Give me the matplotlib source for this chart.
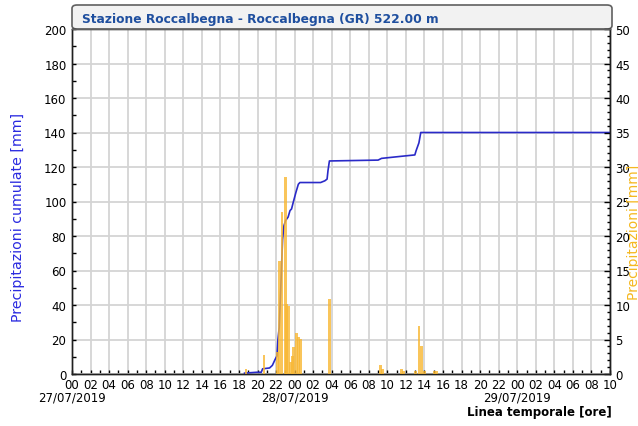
import matplotlib
matplotlib.use("Agg")
import matplotlib.pyplot as plt
from matplotlib.patches import FancyBboxPatch
from matplotlib.ticker import MultipleLocator, FixedLocator
import matplotlib.transforms as mtransforms

# Data (hours from 27/07/2019 00:00)
bar_hours = [18.75, 20.7, 22.17, 22.41, 22.63, 22.98, 23.14, 23.31, 23.57, 23.76,
             23.92, 24.2, 24.43, 24.64, 27.8, 33.27, 33.48, 35.53, 35.78, 37.07,
             37.42, 37.68, 38.04, 39.1, 39.3]
bar_mm = [0.7, 2.8, 3.2, 16.4, 23.5, 28.5, 10.1, 9.9, 1.7, 2.6,
          3.9, 5.9, 5.4, 5.1, 10.9, 1.3, 0.7, 0.7, 0.5, 0.5,
          6.9, 4.0, 0.5, 0.4, 0.4]

cum_hours = [18.6, 19.9, 20.4, 20.55, 21.3, 21.6, 21.9, 22.1, 22.2, 22.34,
             22.5, 22.7, 22.85, 23.03, 23.3, 23.5, 23.67, 23.85, 24.14, 24.4,
             24.57, 26.8, 27.26, 27.5, 27.6, 27.75, 33.0, 33.37, 35.5, 36.96,
             37.1, 37.4, 37.6, 58.0]
cum_mm = [0.5, 1.0, 1.0, 3.0, 3.5, 5.0, 8.5, 10.5, 20, 27,
          49, 78, 86, 89, 91, 94.7, 95.7, 99.5, 105.3, 110,
          111, 111, 112, 113, 118, 123.5, 124, 125, 126.2, 127,
          129.5, 134, 140, 140]

tick_hours = list(range(0, 59, 2))
tick_labels = ["%02d" % (h % 24) for h in tick_hours]
date_hours = [0, 24, 48]
date_labels = ["27/07/2019", "28/07/2019", "29/07/2019"]

title = "Stazione Roccalbegna - Roccalbegna (GR) 522.00 m"

W, H = 638, 427
fig = plt.figure(figsize=(W / 100, H / 100), dpi=100)

x0, x1, y_top, y_bot = 72, 610, 30, 375
ax = fig.add_axes([x0 / W, 1 - y_bot / H, (x1 - x0) / W, (y_bot - y_top) / H])
ax2 = ax.twinx()

# title box with rounded corners, sitting on top of the plot area
box = FancyBboxPatch((x0 / W, 1 - 30 / H), (x1 + 2 - x0) / W, 24 / H,
                     boxstyle="round,pad=0,rounding_size=0.008",
                     transform=fig.transFigure, facecolor="#f2f2f2",
                     edgecolor="#606060", linewidth=1.2, zorder=-1)
fig.patches.append(box)
fig.text(82 / W, 1 - 19 / H, title, color="#1f4f9f", fontsize=8.8,
         fontweight="bold", va="center", ha="left")

# cumulative line (left axis), behind the bars
ax.plot(cum_hours, cum_mm, color="#2a2ac8", linewidth=1.2, zorder=3)
ax.set_xlim(0, 58)
ax.set_ylim(0, 200)
ax.yaxis.set_major_locator(MultipleLocator(20))
ax.yaxis.set_minor_locator(MultipleLocator(10))
ax.xaxis.set_major_locator(FixedLocator(tick_hours))
ax.xaxis.set_minor_locator(MultipleLocator(1))
ax.set_xticklabels(tick_labels)
ax.grid(True, which="major", color="#d4d4d4", linewidth=1.3)
ax.set_axisbelow(True)
ax.tick_params(axis="x", which="both", direction="in", length=3, width=1,
               labelsize=8.5, pad=3)
ax.tick_params(axis="y", which="both", direction="in", length=3, width=1,
               labelsize=8.5, pad=4)

# precipitation bars (right axis)
ax2.bar(bar_hours, bar_mm, width=0.3, color="#f8b732", alpha=0.8,
        linewidth=0, zorder=4)
ax2.set_ylim(0, 50)
ax2.yaxis.set_major_locator(MultipleLocator(5))
ax2.yaxis.set_minor_locator(MultipleLocator(1))
ax2.tick_params(axis="y", which="major", direction="in", length=4, width=1,
                labelsize=8.5, pad=4)
ax2.tick_params(axis="y", which="minor", direction="in", length=2.5, width=1)

for a in (ax, ax2):
    for s in a.spines.values():
        s.set_color("#202020")
        s.set_linewidth(1)
    a.spines["top"].set_color("#606060")

# date labels under the first hour of each day
trans = mtransforms.blended_transform_factory(ax.transData, fig.transFigure)
for h, lab in zip(date_hours, date_labels):
    fig.text(h, 1 - 398 / H, lab, transform=trans, fontsize=8.5,
             ha="center", va="center")

fig.text(18 / W, 1 - 218 / H, "Precipitazioni cumulate [mm]", color="#2a2ae0",
         fontsize=10.2, rotation=90, ha="center", va="center")
fig.text(634 / W, 1 - 232 / H, "Precipitazioni [mm]", color="#f5b820",
         fontsize=10, rotation=90, ha="center", va="center")
fig.text(612 / W, 1 - 413 / H, "Linea temporale [ore]", fontsize=8.5,
         fontweight="bold", ha="right", va="center")

fig.savefig("out.png", dpi=100)
